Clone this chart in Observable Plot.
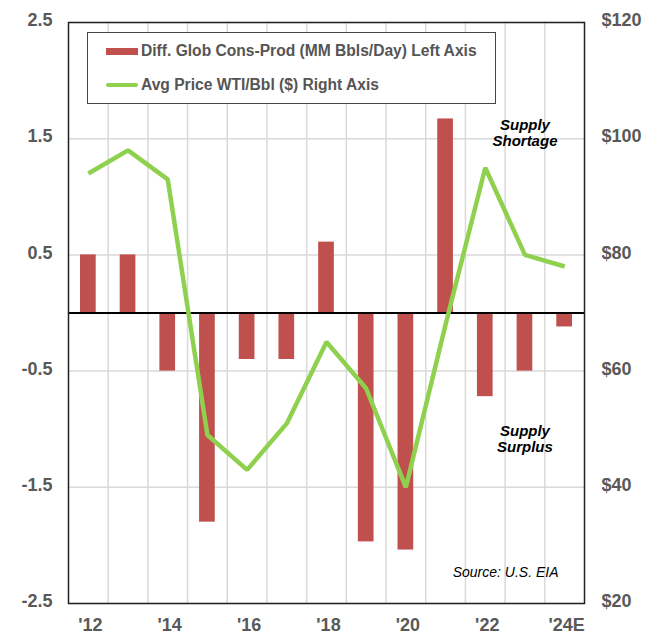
<!DOCTYPE html>
<html>
<head>
<meta charset="utf-8">
<script src="https://cdn.jsdelivr.net/npm/d3@7"></script>
<script src="https://cdn.jsdelivr.net/npm/@observablehq/plot@0.6"></script>
<style>
  html, body { margin: 0; padding: 0; background: #fff; }
  #wrap { position: relative; width: 663px; height: 635px; font-family: "Liberation Sans", Arial, Helvetica, sans-serif; }
  #legend { position: absolute; left: 87px; top: 32px; width: 409px; height: 72px; box-sizing: border-box;
            border: 1.5px solid #444; background: #fff; }
  .item { position: absolute; left: 18px; display: flex; align-items: center; font-weight: bold; font-size: 15.6px; color: #555; white-space: nowrap; }
  .sw { flex: none; width: 32px; margin-right: 3px; }
</style>
</head>
<body>
<div id="wrap"></div>
<script>
// ---- data ----
const years = [2012, 2013, 2014, 2015, 2016, 2017, 2018, 2019, 2020, 2021, 2022, 2023, 2024];
const consProdDiff = [0.5, 0.5, -0.5, -1.8, -0.4, -0.4, 0.61, -1.97, -2.04, 1.67, -0.72, -0.5, -0.12];
const wtiPrice = [94, 98, 93, 49, 43, 51, 65, 57, 40, 68, 95, 80, 78];
const leftTicks = [2.5, 1.5, 0.5, -0.5, -1.5, -2.5];
const rightTicks = [120, 100, 80, 60, 40, 20];
const xTickYears = [2012, 2014, 2016, 2018, 2020, 2022, 2024];
const xTickLabels = ["'12", "'14", "'16", "'18", "'20", "'22", "'24E"];
const seriesNames = ["Diff. Glob Cons-Prod (MM Bbls/Day) Left Axis", "Avg Price WTI/Bbl ($) Right Axis"];
const annotations = [
  {year: 2023, value: 1.55, text: "Supply\nShortage"},
  {year: 2023, value: -1.08, text: "Supply\nSurplus"}
];
const sourceText = "Source: U.S. EIA";

// ---- scales ----
const leftDomain = [-2.5, 2.5];
const rightDomain = [20, 120];
const toLeft = p => leftDomain[0] + (p - rightDomain[0]) * (leftDomain[1] - leftDomain[0]) / (rightDomain[1] - rightDomain[0]);
const fromLeft = v => rightDomain[0] + (v - leftDomain[0]) * (rightDomain[1] - rightDomain[0]) / (leftDomain[1] - leftDomain[0]);

const rows = years.map((y, i) => ({year: y, diff: consProdDiff[i], price: wtiPrice[i]}));
const boundaries = years.slice(1).map(y => y - 0.5);

const BAR = "#C0504D", LINE = "#8FD14F", TXT = "#595959";

const chart = Plot.plot({
  width: 663,
  height: 635,
  marginTop: 22,
  marginBottom: 32,
  marginLeft: 68,
  marginRight: 79,
  style: {fontFamily: '"Liberation Sans", Arial, Helvetica, sans-serif', background: "#fff"},
  x: {type: "linear", domain: [years[0] - 0.5, years[years.length - 1] + 0.5]},
  y: {domain: leftDomain},
  marks: [
    Plot.gridX(boundaries, {stroke: "#d9d9d9", strokeOpacity: 1, strokeWidth: 1.5}),
    Plot.gridY(leftTicks, {stroke: "#d9d9d9", strokeOpacity: 1, strokeWidth: 1.5}),
    Plot.rectY(rows, {x1: d => d.year - 0.5, x2: d => d.year + 0.5, y: "diff", fill: BAR, insetLeft: 12, insetRight: 12}),
    Plot.ruleY([0], {stroke: "#000", strokeWidth: 2}),
    Plot.line(rows, {x: "year", y: d => toLeft(d.price), stroke: LINE, strokeWidth: 4.5, strokeLinejoin: "miter", strokeLinecap: "butt"}),
    Plot.frame({stroke: "#222", strokeWidth: 1.5}),
    Plot.axisY({anchor: "left", ticks: leftTicks, tickFormat: d => String(d), tickSize: 0, tickPadding: 16,
      fontSize: 18, fontWeight: "bold", fill: TXT, label: null, dy: -2}),
    Plot.axisY({anchor: "right", ticks: leftTicks, tickFormat: v => "$" + Math.round(fromLeft(v)), tickSize: 0, tickPadding: 17,
      fontSize: 18, fontWeight: "bold", fill: TXT, label: null, dy: -2}),
    Plot.axisX({ticks: xTickYears, tickFormat: (d, i) => xTickLabels[xTickYears.indexOf(d)], tickSize: 0, tickPadding: 15,
      fontSize: 18, fontWeight: "bold", fill: TXT, label: null, dx: 2}),
    Plot.text(annotations, {x: "year", y: "value", text: "text", fontSize: 15, fontWeight: "bold", fontStyle: "italic",
      fill: "#000", lineHeight: 1.06}),
    Plot.text([sourceText], {frameAnchor: "bottom-right", textAnchor: "end", dx: -26, dy: -27, fontSize: 14, fontStyle: "italic", fill: "#000"})
  ]
});

const wrap = document.getElementById("wrap");
wrap.appendChild(chart);

const legend = document.createElement("div");
legend.id = "legend";
legend.innerHTML =
  `<div class="item" style="top:9px"><div class="sw" style="height:7px;background:${BAR}"></div><span>${seriesNames[0]}</span></div>` +
  `<div class="item" style="top:43px"><div class="sw" style="height:4.5px;border-radius:3px;background:${LINE}"></div><span>${seriesNames[1]}</span></div>`;
wrap.appendChild(legend);
</script>
</body>
</html>
